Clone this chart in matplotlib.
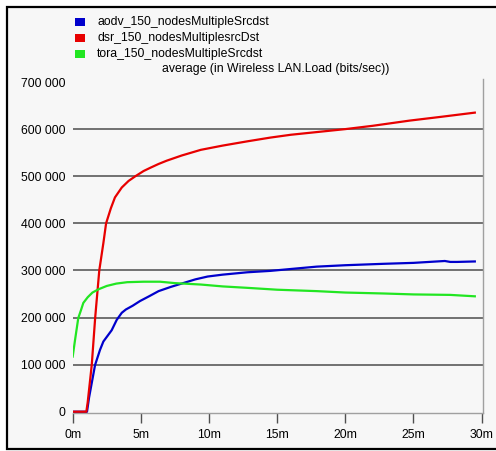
import matplotlib
matplotlib.use("Agg")
import matplotlib.pyplot as plt
from matplotlib.patches import Rectangle

plt.rcParams['font.family'] = ['Liberation Sans', 'DejaVu Sans']

# Series: time in minutes, load in bits/sec
series_names = [
    "aodv_150_nodesMultipleSrcdst",
    "dsr_150_nodesMultiplesrcDst",
    "tora_150_nodesMultipleSrcdst",
]
series_colors = ["#0000cc", "#e80000", "#22e622"]

aodv_t = [0, 1.05, 1.2, 1.64, 2.0, 2.25, 2.86, 3.23, 3.6, 3.9, 4.4, 4.94, 5.6,
          6.3, 7.2, 8.1, 9.0, 9.9, 11.0, 12.8, 14.5, 16.0, 17.9, 20.0, 22.8,
          25.0, 27.3, 27.7, 28.2, 29.5]
aodv_v = [0, 0, 30000, 99000, 131000, 149000, 173000, 195000, 210000, 217000,
          225000, 235000, 245000, 256000, 265000, 273000, 281000, 287000,
          291000, 296000, 299000, 303000, 308000, 311000, 314000, 316000,
          320000, 318000, 318000, 319000]

dsr_t = [0, 1.0, 1.1, 1.4, 1.65, 1.95, 2.25, 2.45, 2.8, 3.1, 3.6, 4.1, 4.6,
         5.2, 5.7, 6.3, 6.9, 8.0, 9.4, 11.0, 12.8, 14.5, 16.0, 18.0, 20.0,
         22.0, 24.7, 27.0, 29.5]
dsr_v = [0, 0, 20000, 100000, 200000, 300000, 358000, 400000, 432000, 455000,
         476000, 490000, 500000, 511000, 518000, 526000, 533000, 544000,
         556000, 565000, 574000, 582000, 588000, 594000, 600000, 607000,
         618000, 626000, 635000]

tora_t = [0, 0.17, 0.41, 0.6, 0.78, 1.1, 1.45, 1.9, 2.5, 3.2, 4.0, 5.2, 6.4,
          7.5, 9.4, 11.0, 12.8, 15.0, 17.9, 20.0, 22.8, 25.0, 27.7, 29.5]
tora_v = [117000, 152000, 199000, 215000, 231000, 243000, 253000, 260000,
          267000, 272000, 275000, 276000, 276000, 273000, 270000, 266000,
          263000, 259000, 256000, 253000, 251000, 249000, 248000, 245000]

y_ticks = [0, 100000, 200000, 300000, 400000, 500000, 600000, 700000]
y_labels = ["0", "100 000", "200 000", "300 000", "400 000", "500 000",
            "600 000", "700 000"]
x_ticks = [0, 5, 10, 15, 20, 25, 30]
x_labels = ["0m", "5m", "10m", "15m", "20m", "25m", "30m"]

title = "average (in Wireless LAN.Load (bits/sec))"

W, H = 496, 451
FS = 8.8
fig = plt.figure(figsize=(W / 100, H / 100), dpi=100, facecolor="white")
bg = "#f7f7f7"

# Panel frame behind everything
fig.patches.append(Rectangle((7 / W, 2 / H), 500 / W, 442 / H,
                             transform=fig.transFigure, facecolor=bg,
                             edgecolor="black", linewidth=1.6, zorder=-5))

ax = fig.add_axes([72.7 / W, (H - 413.3) / H, (483 - 72.7) / W, (413.3 - 79) / H])
ax.set_zorder(1)
ax.set_facecolor(bg)
ax.set_xlim(0, 30.1)
ax.set_ylim(-3400, 706400)

for v in y_ticks[1:-1]:
    ax.axhline(v, color="#5a5a5a", linewidth=1.2, zorder=1)

ax.plot(aodv_t, aodv_v, color=series_colors[0], linewidth=1.6, zorder=3)
ax.plot(dsr_t, dsr_v, color=series_colors[1], linewidth=1.6, zorder=3)
ax.plot(tora_t, tora_v, color=series_colors[2], linewidth=1.6, zorder=3)

for s in ("left", "top"):
    ax.spines[s].set_visible(False)
for s in ("bottom", "right"):
    ax.spines[s].set_color("#a0a0a0")
    ax.spines[s].set_linewidth(1.0)

ax.set_yticks(y_ticks)
ax.set_yticklabels(y_labels)
ax.set_xticks(x_ticks)
ax.set_xticklabels(x_labels)
ax.tick_params(axis="y", length=0, pad=5.5, labelsize=FS, labelcolor="black")
ax.tick_params(axis="x", length=7, width=1.0, color="#505050", pad=4,
               labelsize=FS, labelcolor="black")

# Legend block
rows_y = [22, 38, 54]
for name, col, yc in zip(series_names, series_colors, rows_y):
    fig.patches.append(Rectangle((75 / W, (H - yc - 4) / H), 10 / W, 8 / H,
                                 transform=fig.transFigure, facecolor=col,
                                 edgecolor="none", zorder=2))
    fig.text(97 / W, (H - yc) / H, name, fontsize=FS, va="center", ha="left")

fig.text(276 / W, (H - 69) / H, title, fontsize=FS, va="center", ha="center")

fig.savefig("out.png", dpi=100, facecolor="white")
